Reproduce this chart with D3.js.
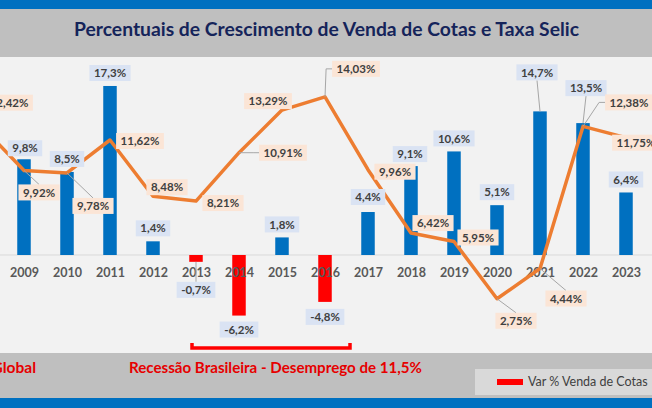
<!DOCTYPE html>
<html><head><meta charset="utf-8">
<script src="https://cdn.jsdelivr.net/npm/d3@7"></script>
<style>html,body{margin:0;padding:0;background:#fff;overflow:hidden}</style>
</head><body><svg id="c" width="652" height="408"></svg>
<script>
// ---- data ----
const years = ["2008","2009","2010","2011","2012","2013","2014","2015","2016","2017","2018","2019","2020","2021","2022","2023"];
const salesGrowth = [null, 9.8, 8.5, 17.3, 1.4, -0.7, -6.2, 1.8, -4.8, 4.4, 9.1, 10.6, 5.1, 14.7, 13.5, 6.4];
const selicRate = [12.42, 9.92, 9.78, 11.62, 8.48, 8.21, 10.91, 13.29, 14.03, 9.96, 6.42, 5.95, 2.75, 4.44, 12.38, 11.75];
const visibleTicks = ["2009","2010","2011","2012","2013","2014","2015","2016","2017","2018","2019","2020","2021","2022","2023"];
const chartTitle = "Percentuais de Crescimento de Venda de Cotas e Taxa Selic";
const legendLabels = ["Var % Venda de Cotas"];
const noteLeft = "Global";
const noteRecession = "Recessão Brasileira - Desemprego de 11,5%";

// ---- layout (label offsets relative to mark, leader type) ----
const barLabelLayout = [null,[1,-11],[0,-13],[0,-13],[0,-13],[0,28,"top"],[0,14],[0,-13],[0,15],[0,-15],[-1,-12],[0,-13],[0,-13],[-3,-39,"bottom"],[3,-35,"bottom"],[0,-13]];
const lineLabelLayout = [[28,-23],[15,22,"top"],[26,33,"top"],[30,1],[14,-9],[27,2],[44,0,"left"],[-14,-9],[31,-28,"left"],[27,2],[22,-10],[24,-4],[19,22,"top"],[26,30,"top"],[46,-24,"left"],[10,5]];

const W = 652, H = 408;
const svg = d3.select("#c");
const loc = d3.formatLocale({decimal:",", thousands:".", grouping:[3], currency:["R$",""], minus:"-"});
const fBar = v => loc.format(".1f")(v) + "%";
const fLine = v => loc.format(".2f")(v) + "%";

// backgrounds
svg.append("rect").attr("x",0).attr("y",0).attr("width",W).attr("height",9).attr("fill","#0070c0");
svg.append("rect").attr("x",0).attr("y",9).attr("width",W).attr("height",48).attr("fill","#bfbfbf");
svg.append("rect").attr("x",0).attr("y",57).attr("width",W).attr("height",296).attr("fill","#f2f2f2");
svg.append("rect").attr("x",0).attr("y",353).attr("width",W).attr("height",45).attr("fill","#bfbfbf");
svg.append("rect").attr("x",0).attr("y",398).attr("width",W).attr("height",10).attr("fill","#0070c0");

// title
svg.append("text").attr("x",326.5).attr("y",36).attr("text-anchor","middle")
  .attr("font-family","Lato, 'Open Sans', sans-serif").attr("font-weight","bold").attr("font-size",18.5)
  .attr("fill","#15245a").attr("textLength",505).attr("lengthAdjust","spacingAndGlyphs").text(chartTitle);

// scales
const x = d3.scalePoint().domain(years).range([-19, 626]);
const yBar = d3.scaleLinear().domain([-10, 20]).range([352.7, 59.6]);
const yLine = d3.scaleLinear().domain([0, 16]).range([348, 61.6]);
const barW = 13.5;

// baseline
svg.append("line").attr("x1",0).attr("x2",W).attr("y1",yBar(0)).attr("y2",yBar(0))
  .attr("stroke","#d9d9d9").attr("stroke-width",1);

// bars
const barData = years.map((y,i)=>({year:y, v:salesGrowth[i], i})).filter(d=>d.v!==null);
svg.append("g").selectAll("rect").data(barData).join("rect")
  .attr("x", d=>x(d.year)-barW/2).attr("width",barW)
  .attr("y", d=>yBar(Math.max(0,d.v)))
  .attr("height", d=>Math.abs(yBar(d.v)-yBar(0)))
  .attr("fill", d=>d.v>=0 ? "#0070c0" : "#ff0000");

// x axis
const axis = svg.append("g").attr("transform",`translate(0,${yBar(0)})`)
  .call(d3.axisBottom(x).tickValues(visibleTicks).tickSize(0));
axis.select(".domain").remove();
axis.selectAll("text").attr("y",22).attr("dy",0)
  .attr("font-family","Lato, sans-serif").attr("font-weight","bold").attr("font-size",12.5).attr("fill","#595959");

// line
const lineData = years.map((y,i)=>({year:y, v:selicRate[i], i}));
svg.append("path").datum(lineData)
  .attr("d", d3.line().x(d=>x(d.year)).y(d=>yLine(d.v)))
  .attr("fill","none").attr("stroke","#ed7d31").attr("stroke-width",3.5)
  .attr("stroke-linejoin","round").attr("stroke-linecap","round");

// labels
const leaderG = svg.append("g");
const labelG = svg.append("g");
function addLabel(px, py, lay, text, fill){
  const cx = px + lay[0], cy = py + lay[1];
  const g = labelG.append("g");
  const rect = g.append("rect").attr("fill",fill);
  const t = g.append("text").attr("x",cx).attr("y",cy).attr("dy","0.36em").attr("text-anchor","middle")
    .attr("font-family","Lato, sans-serif").attr("font-weight","bold").attr("font-size",11.5)
    .attr("fill","#404040").text(text);
  const w = t.node().getComputedTextLength() + 9, h = 16;
  rect.attr("x",cx-w/2).attr("y",cy-h/2).attr("width",w).attr("height",h);
  const type = lay[2];
  if(type){
    let d;
    if(type==="top") d = `M${px},${py}L${cx},${cy-h/2}`;
    else if(type==="bottom") d = `M${px},${py}L${cx},${cy+h/2}`;
    else d = `M${px},${py}L${cx-w/2-6},${cy}L${cx-w/2},${cy}`;
    leaderG.append("path").attr("d",d).attr("fill","none").attr("stroke","#a6a6a6").attr("stroke-width",1);
  }
}
barData.forEach(d=>{
  addLabel(x(d.year), yBar(d.v), barLabelLayout[d.i], fBar(d.v), "#dae3f3");
});
lineData.forEach(d=>{
  addLabel(x(d.year), yLine(d.v), lineLabelLayout[d.i], fLine(d.v), "#fbe5d6");
});

// recession bracket
const bx1 = x("2013")-4, bx2 = x("2016")+25;
svg.append("path").attr("d",`M${bx1},343V348H${bx2}V343`).attr("fill","none")
  .attr("stroke","#ff0000").attr("stroke-width",3.5);

// bottom notes
svg.append("text").attr("x",36).attr("y",373).attr("text-anchor","end")
  .attr("font-family","Lato, sans-serif").attr("font-weight","bold").attr("font-size",15.5)
  .attr("fill","#e60000").text(noteLeft);
svg.append("text").attr("x",129).attr("y",373)
  .attr("font-family","Lato, sans-serif").attr("font-weight","bold").attr("font-size",15.5)
  .attr("fill","#e60000").attr("textLength",293).attr("lengthAdjust","spacingAndGlyphs").text(noteRecession);

// legend
const lg = svg.append("g");
lg.append("rect").attr("x",475).attr("y",369).attr("width",W-475).attr("height",26).attr("fill","#d9d9d9");
lg.append("rect").attr("x",497).attr("y",379).attr("width",26).attr("height",6).attr("fill","#ff0000");
lg.append("text").attr("x",528).attr("y",386).attr("font-family","Lato, sans-serif").attr("font-size",12.5)
  .attr("fill","#404040").text(legendLabels[0]);
</script>
</body></html>
